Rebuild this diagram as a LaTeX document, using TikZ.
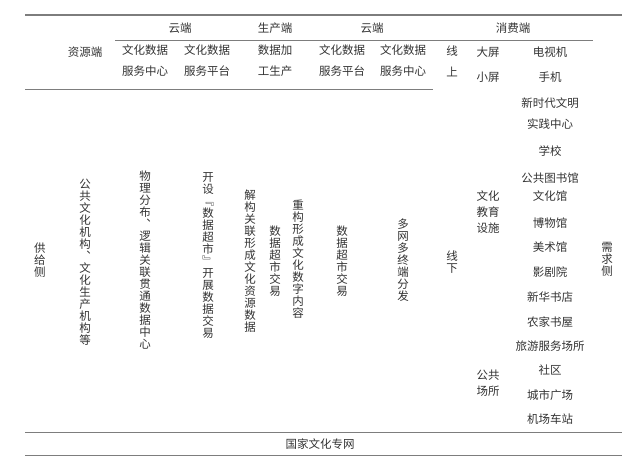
\documentclass[tikz,border=0pt]{standalone}
\usepackage{fontspec}
\usepackage{xcolor}
\usepackage{tikz}
\usetikzlibrary{positioning,calc}
\newfontfamily\cjk{Noto Sans CJK SC}
\definecolor{textgray}{RGB}{50,50,50}
\definecolor{rulegray}{RGB}{125,125,125}
% stack characters one under another
\newcommand{\shu}[1]{\shuinner#1\relax}
\def\shuinner#1#2{#1\ifx#2\relax\else\\\expandafter\shuinner\expandafter#2\fi}
\tikzset{
    cell/.style={inner sep=0pt, align=center, text=textgray, font=\cjk\fontsize{11.5}{21}\selectfont},
    col/.style={inner sep=0pt, align=center, text=textgray, font=\cjk\fontsize{11.5}{12}\selectfont},
    side/.style={inner sep=0pt, align=center, text=textgray, font=\cjk\fontsize{11.5}{16}\selectfont},
    toprule/.style={draw=rulegray, line width=1.1pt},
    midrule/.style={draw=rulegray, line width=0.8pt}
}
\begin{document}
\begin{tikzpicture}[x=1pt, y=-1pt]
    \useasboundingbox (0,0) rectangle (640,459);

    % Rules
    \path [toprule] (25,15) -- (622,15);
    \path [midrule] (115,40) -- (593,40);
    \path [midrule] (25,89) -- (433,89);
    \path [midrule] (25,432) -- (622,432);
    \path [midrule] (25,455) -- (622,455);

    % Header row
    \node [cell] (cloudA) at (180,28) {云端};
    \node [cell] (prod) at (275,28) {生产端};
    \node [cell] (cloudB) at (372,28) {云端};
    \node [cell] (consume) at (513,28) {消费端};

    % Second header row
    \node [cell] (source) at (85,52) {资源端};
    \node [cell] (centerA) at (145,61) {文化数据\\服务中心};
    \node [cell] (platA) at (207,61) {文化数据\\服务平台};
    \node [cell] (process) at (275,61) {数据加\\工生产};
    \node [cell] (platB) at (342,61) {文化数据\\服务平台};
    \node [cell] (centerB) at (403,61) {文化数据\\服务中心};
    \node [cell] (online) at (452,61) {线\\上};
    \node [cell] (big) at (488,52) {大屏};
    \node [cell] (small) at (488,77) {小屏};
    \node [cell] (tv) at (550,52) {电视机};
    \node [cell] (phone) at (550,77) {手机};

    % Supply side columns
    \node [col] (supply) at (40,260) {\shu{供给侧}};
    \node [col] (inst) at (85,262) {\shu{公共文化机构︑文化生产机构等}};
    \node [col] (datacenter) at (145,260) {\shu{物理分布︑逻辑关联贯通数据中心}};
    \node [col] (market) at (208,256) {\shu{开设﹃数据超市﹄开展数据交易}};
    \node [col] (deconst) at (250,261) {\shu{解构关联形成文化资源数据}};
    \node [col] (tradeA) at (275,261) {\shu{数据超市交易}};
    \node [col] (reconst) at (298,259) {\shu{重构形成文化数字内容}};
    \node [col] (tradeB) at (342,261) {\shu{数据超市交易}};
    \node [col] (distrib) at (403,260) {\shu{多网多终端分发}};
    \node [col] (offline) at (452,262) {\shu{线下}};

    % Demand side
    \node [side] (facility) at (488,212) {文化\\教育\\设施};
    \node [side] (public) at (488,383) {公共\\场所};
    \node [cell] (civil) at (550,114) {新时代文明\\实践中心};
    \node [cell] (school) at (550,151) {学校};
    \node [cell] (library) at (550,178) {公共图书馆};
    \node [cell] (hall) at (550,196) {文化馆};
    \node [cell] (museum) at (550,223) {博物馆};
    \node [cell] (art) at (550,247) {美术馆};
    \node [cell] (theatre) at (550,272) {影剧院};
    \node [cell] (xinhua) at (550,297) {新华书店};
    \node [cell] (farm) at (550,322) {农家书屋};
    \node [cell] (tour) at (550,346) {旅游服务场所};
    \node [cell] (community) at (550,370) {社区};
    \node [cell] (square) at (550,395) {城市广场};
    \node [cell] (station) at (550,419) {机场车站};
    \node [col] (demand) at (607,259) {\shu{需求侧}};

    % Bottom row
    \node [cell] (network) at (320,444) {国家文化专网};
\end{tikzpicture}
\end{document}
